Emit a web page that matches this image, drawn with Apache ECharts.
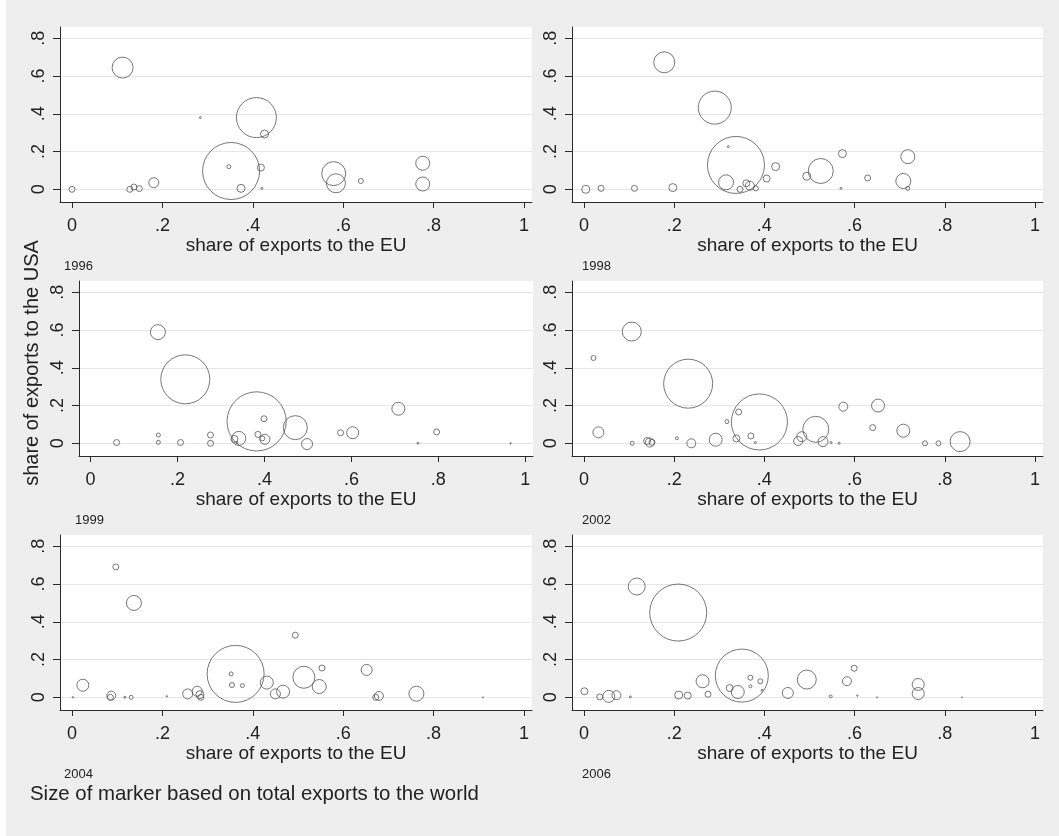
<!DOCTYPE html>
<html><head><meta charset="utf-8">
<script src="https://cdn.jsdelivr.net/npm/echarts@6/dist/echarts.min.js"></script>
<style>html,body{margin:0;padding:0;background:#fff}#c{width:1059px;height:836px}</style>
</head><body><div id="c"></div><script>
// ---- data: [share of exports to the EU, share of exports to the USA, total exports (relative)] ----
const years = ['1996', '1998', '1999', '2002', '2004', '2006'];
const xTicks = [0, 0.2, 0.4, 0.6, 0.8, 1];
const yTicks = [0, 0.2, 0.4, 0.6, 0.8];
const xTitle = 'share of exports to the EU';
const yTitle = 'share of exports to the USA';
const caption = 'Size of marker based on total exports to the world';

const d1996 = [
  [0.000, 0.000, 3.6], [0.112, 0.645, 44], [0.128, 0.000, 3.6], [0.137, 0.012, 3.6],
  [0.149, 0.004, 3.6], [0.181, 0.035, 10], [0.284, 0.380, 0.4], [0.352, 0.097, 325],
  [0.347, 0.120, 1.6], [0.374, 0.005, 6.4], [0.408, 0.380, 160], [0.426, 0.293, 6.4],
  [0.418, 0.115, 4.9], [0.420, 0.005, 0.4], [0.579, 0.083, 57.6], [0.584, 0.032, 36],
  [0.639, 0.044, 2.5], [0.776, 0.138, 19.6], [0.776, 0.028, 19.6]
];
const d1998 = [
  [0.004, 0.000, 6.4], [0.038, 0.005, 3.6], [0.112, 0.005, 3.6], [0.197, 0.009, 6.4],
  [0.178, 0.673, 44], [0.290, 0.433, 109], [0.320, 0.226, 0.4], [0.337, 0.129, 325],
  [0.315, 0.037, 22.5], [0.346, 0.000, 3.6], [0.360, 0.032, 4.9], [0.368, 0.019, 8.1],
  [0.381, 0.005, 2.5], [0.405, 0.057, 4.9], [0.425, 0.120, 6.4], [0.494, 0.069, 6.4],
  [0.525, 0.097, 62.5], [0.573, 0.189, 6.4], [0.570, 0.005, 0.4], [0.629, 0.060, 3.6],
  [0.708, 0.044, 22.5], [0.718, 0.173, 19.6], [0.718, 0.005, 1.6]
];
const d1999 = [
  [0.060, 0.004, 3.6], [0.155, 0.589, 22.5], [0.156, 0.044, 1.6], [0.156, 0.005, 1.6],
  [0.218, 0.339, 240], [0.207, 0.004, 3.6], [0.276, 0.044, 3.6], [0.276, 0.000, 3.6],
  [0.331, 0.023, 4.9], [0.341, 0.026, 19.6], [0.337, 0.004, 0.4], [0.382, 0.116, 350],
  [0.385, 0.047, 3.6], [0.401, 0.021, 10], [0.399, 0.130, 3.6], [0.395, 0.026, 2.5],
  [0.471, 0.083, 57.6], [0.498, -0.004, 12.1], [0.575, 0.056, 3.6], [0.603, 0.056, 14.4],
  [0.708, 0.183, 16.9], [0.753, 0.000, 0.4], [0.796, 0.060, 3.6], [0.966, 0.000, 0.2]
];
const d2002 = [
  [0.021, 0.452, 2.5], [0.032, 0.058, 12.1], [0.106, 0.592, 36.1], [0.107, 0.000, 1.6],
  [0.140, 0.012, 4.9], [0.146, 0.004, 8.1], [0.151, 0.005, 3.6], [0.206, 0.027, 0.9],
  [0.231, 0.316, 240], [0.238, 0.000, 8.1], [0.292, 0.019, 16.9], [0.317, 0.115, 1.6],
  [0.343, 0.166, 3.6], [0.338, 0.026, 4.9], [0.370, 0.039, 3.6], [0.389, 0.113, 314],
  [0.380, 0.004, 0.4], [0.475, 0.012, 8.1], [0.483, 0.035, 10], [0.514, 0.074, 67.6],
  [0.530, 0.009, 10], [0.548, 0.004, 0.4], [0.566, 0.000, 0.4], [0.575, 0.194, 8.1],
  [0.640, 0.083, 3.6], [0.652, 0.200, 16.9], [0.708, 0.067, 16.9], [0.756, 0.000, 2.5],
  [0.786, 0.000, 2.5], [0.834, 0.009, 40]
];
const d2004 = [
  [0.002, 0.000, 0.2], [0.024, 0.064, 14.4], [0.087, 0.009, 8.1], [0.085, 0.000, 3.6],
  [0.097, 0.691, 3.6], [0.137, 0.500, 22.5], [0.117, 0.000, 0.4], [0.131, 0.000, 1.6],
  [0.210, 0.005, 0.2], [0.256, 0.018, 10], [0.277, 0.032, 10], [0.283, 0.014, 6.4],
  [0.285, 0.000, 3.6], [0.362, 0.124, 325], [0.352, 0.124, 1.6], [0.354, 0.065, 2.5],
  [0.377, 0.062, 1.6], [0.431, 0.078, 16.9], [0.450, 0.018, 10], [0.467, 0.030, 16.9],
  [0.494, 0.329, 3.6], [0.513, 0.106, 48.4], [0.553, 0.155, 3.6], [0.547, 0.057, 19.6],
  [0.652, 0.145, 12.1], [0.672, 0.000, 3.6], [0.679, 0.007, 8.1], [0.762, 0.019, 22.5],
  [0.909, 0.000, 0.1]
];
const d2006 = [
  [0.001, 0.032, 4.9], [0.035, 0.002, 3.6], [0.055, 0.005, 14.4], [0.072, 0.011, 8.1],
  [0.103, 0.002, 0.4], [0.117, 0.587, 28.9], [0.209, 0.449, 325], [0.210, 0.012, 6.4],
  [0.230, 0.009, 4.9], [0.263, 0.085, 16.9], [0.275, 0.016, 3.6], [0.350, 0.115, 281],
  [0.323, 0.049, 4.9], [0.341, 0.028, 16.9], [0.369, 0.104, 2.5], [0.369, 0.058, 0.9],
  [0.391, 0.085, 2.5], [0.395, 0.037, 0.4], [0.452, 0.023, 12.1], [0.494, 0.094, 36.1],
  [0.547, 0.005, 0.9], [0.583, 0.085, 8.1], [0.599, 0.154, 3.6], [0.606, 0.009, 0.2],
  [0.650, 0.000, 0.1], [0.741, 0.068, 14.4], [0.741, 0.020, 14.4], [0.838, 0.000, 0.1]
];
const panelData = [d1996, d1998, d1999, d2002, d2004, d2006];

// ---- layout / style ----
const FONT = '"Liberation Sans", Arial, Helvetica, sans-serif';
const panelLeft = [60, 572, 79, 572, 60, 572];
const panelWidth = [472, 471, 454, 471, 472, 471];
const yearLeft = [64, 582, 75, 582, 64, 582];
const rowTop = [27, 281, 535];
const PH = 175;
const X_MIN = -0.0265, X_MAX = 1.0177;
const Y_MIN = -0.0673, Y_MAX = 0.86;
const AX = '#2a2a2a';
const TXT = '#222';
const SIZE_K = Math.sqrt(10);

function fmt(v) {
  if (Math.abs(v) < 1e-9) return '0';
  if (Math.abs(v - 1) < 1e-9) return '1';
  return v.toFixed(1).replace(/^0/, '');
}

const grids = [], xAxes = [], yAxes = [], series = [], graphics = [];
panelData.forEach((data, i) => {
  const r = Math.floor(i / 2);
  const left = panelLeft[i], top = rowTop[r];
  grids.push({ left: left, top: top, width: panelWidth[i], height: PH, show: true,
    backgroundColor: '#ffffff', borderWidth: 0, containLabel: false });
  xAxes.push({
    gridIndex: i, type: 'value', min: X_MIN, max: X_MAX,
    axisLine: { show: true, onZero: false, lineStyle: { color: AX, width: 1 } },
    axisTick: { show: true, length: 6, customValues: xTicks, lineStyle: { color: AX } },
    axisLabel: { customValues: xTicks, formatter: fmt, margin: 15, fontSize: 18,
      color: TXT, fontFamily: FONT },
    splitLine: { show: false },
    name: xTitle, nameLocation: 'middle', nameGap: 28,
    nameTextStyle: { fontSize: 19, color: TXT, fontFamily: FONT }
  });
  yAxes.push({
    gridIndex: i, type: 'value', min: Y_MIN, max: Y_MAX,
    axisLine: { show: true, onZero: false, lineStyle: { color: AX, width: 1 } },
    axisTick: { show: true, length: 7, customValues: yTicks, lineStyle: { color: AX } },
    axisLabel: { customValues: yTicks, formatter: fmt, rotate: 90, margin: 12, fontSize: 18,
      color: TXT, fontFamily: FONT },
    splitLine: { show: true, lineStyle: { color: '#e6e6e6', width: 1 } }
  });
  series.push({
    type: 'scatter', xAxisIndex: i, yAxisIndex: i, data: data,
    symbol: 'circle',
    symbolSize: (v) => Math.max(1, Math.sqrt(v[2]) * SIZE_K),
    itemStyle: { color: 'rgba(0,0,0,0)', borderColor: '#555', borderWidth: 1 },
    emphasis: { disabled: true }, silent: true, clip: false
  });
  graphics.push({ type: 'text', left: yearLeft[i], top: top + 233,
    style: { text: years[i], font: '13px ' + FONT, fill: TXT } });
});

graphics.push({ type: 'rect', left: 0, top: 0, shape: { width: 6, height: 836 },
  style: { fill: '#ffffff' } });
graphics.push({ type: 'text', x: 32, y: 363, rotation: Math.PI / 2,
  style: { text: yTitle, font: '20px ' + FONT, fill: TXT, textAlign: 'center', textVerticalAlign: 'middle' } });
graphics.push({ type: 'text', left: 30, top: 784,
  style: { text: caption, font: '20.4px ' + FONT, fill: TXT } });

const chart = echarts.init(document.getElementById('c'), null, { renderer: 'canvas' });
chart.setOption({
  animation: false,
  backgroundColor: '#eeeeee',
  grid: grids, xAxis: xAxes, yAxis: yAxes, series: series, graphic: graphics
});
</script></body></html>
